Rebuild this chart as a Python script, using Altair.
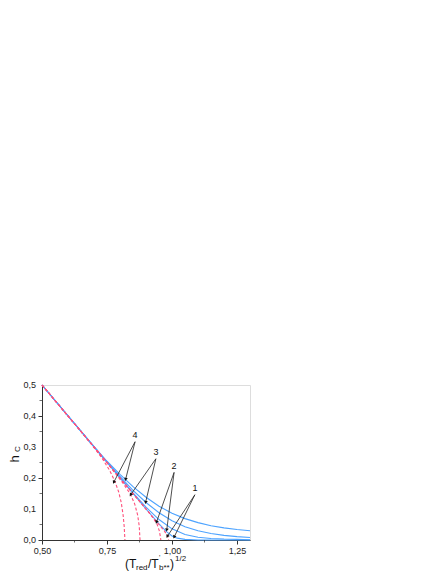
import math
import altair as alt
import pandas as pd

# ---- data ----
blue4_x = [0.5, 0.7, 0.75, 0.8, 0.85, 0.9, 0.95, 1.0, 1.05, 1.1, 1.15, 1.2, 1.25, 1.3]
blue4_y = [0.5, 0.301, 0.254, 0.212, 0.172, 0.138, 0.109, 0.086, 0.069, 0.056, 0.046, 0.039, 0.034, 0.030]
blue3_x = [0.5, 0.75, 0.8, 0.85, 0.9, 0.95, 1.0, 1.05, 1.1, 1.15, 1.2, 1.25, 1.3]
blue3_y = [0.5, 0.251, 0.205, 0.160, 0.121, 0.088, 0.062, 0.043, 0.030, 0.021, 0.015, 0.011, 0.008]
blue2_x = [0.5, 0.85, 0.9, 0.95, 1.0, 1.05, 1.1, 1.15, 1.2, 1.25, 1.3]
blue2_y = [0.5, 0.152, 0.106, 0.066, 0.036, 0.018, 0.009, 0.005, 0.003, 0.002, 0.001]
blue1_x = [0.5, 0.9, 0.95, 0.98, 1.0, 1.02, 1.05, 1.1, 1.3]
blue1_y = [0.5, 0.1, 0.052, 0.026, 0.013, 0.006, 0.002, 0.0, 0.0]

red4_x = [0.5, 0.65, 0.7, 0.73, 0.76, 0.78, 0.795, 0.805, 0.812, 0.816, 0.819]
red4_y = [0.5, 0.35, 0.298, 0.265, 0.225, 0.19, 0.155, 0.12, 0.08, 0.045, 0.0]
red3_x = [0.5, 0.72, 0.77, 0.81, 0.84, 0.857, 0.868, 0.874, 0.877]
red3_y = [0.5, 0.28, 0.228, 0.185, 0.148, 0.115, 0.08, 0.045, 0.0]
red2_x = [0.5, 0.88, 0.91, 0.93, 0.943, 0.951, 0.955, 0.957]
red2_y = [0.5, 0.12, 0.09, 0.068, 0.05, 0.03, 0.012, 0.0]
red1_x = [0.5, 0.95, 0.97, 0.98, 0.985, 0.987]
red1_y = [0.5, 0.05, 0.03, 0.017, 0.007, 0.0]

label_text = ["4", "3", "2", "1"]
label_x = [0.858, 0.938, 1.008, 1.088]
label_y = [0.339, 0.284, 0.240, 0.168]
tip_red_x = [0.777, 0.842, 0.941, 0.983]
tip_red_y = [0.188, 0.147, 0.059, 0.013]
tip_blue_x = [0.822, 0.899, 0.980, 1.009]
tip_blue_y = [0.197, 0.123, 0.034, 0.011]

x_major = [0.5, 0.75, 1.0, 1.25]
x_minor = [0.625, 0.875, 1.125]
y_major = [0.0, 0.1, 0.2, 0.3, 0.4, 0.5]
y_labels = ["0,0", "0,1", "0,2", "0,3", "0,4", "0,5"]
y_minor = [0.05, 0.15, 0.25, 0.35, 0.45]

W, H = 208, 155
XMIN, XMAX, YMIN, YMAX = 0.5, 1.3, 0.0, 0.5

def curves(specs):
    rows = []
    for name, xs, ys in specs:
        for i, (a, b) in enumerate(zip(xs, ys)):
            rows.append({"curve": name, "i": i, "x": a, "y": b})
    return pd.DataFrame(rows)

blue_df = curves([("b4", blue4_x, blue4_y), ("b3", blue3_x, blue3_y),
                  ("b2", blue2_x, blue2_y), ("b1", blue1_x, blue1_y)])
red_df = curves([("r4", red4_x, red4_y), ("r3", red3_x, red3_y),
                 ("r2", red2_x, red2_y), ("r1", red1_x, red1_y)])

arrows = []
for k in range(4):
    for tx, ty in ((tip_red_x[k], tip_red_y[k]), (tip_blue_x[k], tip_blue_y[k])):
        sx, sy = label_x[k], label_y[k] - 0.022
        dx = (tx - sx) * W / (XMAX - XMIN)
        dy = -(ty - sy) * H / (YMAX - YMIN)
        ang = math.degrees(math.atan2(dx, -dy)) % 360
        arrows.append({"sx": sx, "sy": sy, "tx": tx, "ty": ty, "ang": ang})
arrow_df = pd.DataFrame(arrows)
label_df = pd.DataFrame({"t": label_text, "x": label_x, "y": label_y})

xs = alt.Scale(domain=[XMIN, XMAX], nice=False, zero=False)
ys = alt.Scale(domain=[YMIN, YMAX], nice=False, zero=False)

common = dict(title=None, grid=False, tickSize=4, labelFontSize=9, labelPadding=2,
              labelOverlap=False, labelFlush=False,
              domainColor="#333", tickColor="#333", labelColor="#222", labelFont="Liberation Sans")
xaxis = alt.Axis(values=x_major,
                 labelExpr="replace(format(datum.value, '.2f'), '.', ',')", **common)
yaxis = alt.Axis(values=y_major, labels=False, **common)

blue = alt.Chart(blue_df).mark_line(color="#4da3ff", strokeWidth=1.1).encode(
    x=alt.X("x:Q", scale=xs, axis=xaxis),
    y=alt.Y("y:Q", scale=ys, axis=yaxis),
    detail="curve:N", order="i:Q")
red = alt.Chart(red_df).mark_line(color="#ff4f7b", strokeWidth=1.1, strokeDash=[3, 2]).encode(
    x=alt.X("x:Q", scale=xs), y=alt.Y("y:Q", scale=ys), detail="curve:N", order="i:Q")

arrow_lines = alt.Chart(arrow_df).mark_rule(color="#222", strokeWidth=0.8).encode(
    x=alt.X("sx:Q", scale=xs), y=alt.Y("sy:Q", scale=ys), x2="tx:Q", y2="ty:Q")
arrow_heads = alt.Chart(arrow_df).mark_point(shape="triangle", filled=True, color="#111", size=14, opacity=1).encode(
    x=alt.X("tx:Q", scale=xs), y=alt.Y("ty:Q", scale=ys), angle=alt.Angle("ang:Q", scale=None))
labels = alt.Chart(label_df).mark_text(fontSize=9, font="Liberation Sans", color="#111").encode(
    x=alt.X("x:Q", scale=xs), y=alt.Y("y:Q", scale=ys), text="t:N")

ylab = alt.Chart(pd.DataFrame({"v": y_major, "t": y_labels})).mark_text(
    fontSize=9, font="Liberation Sans", color="#222", align="right", baseline="middle").encode(
    y=alt.Y("v:Q", scale=ys), x=alt.value(-6), text="t:N")

xminor = alt.Chart(pd.DataFrame({"v": x_minor})).mark_tick(
    orient="vertical", size=2.5, thickness=1, color="#333").encode(
    x=alt.X("v:Q", scale=xs), y=alt.value(H + 1.25))
yminor = alt.Chart(pd.DataFrame({"v": y_minor})).mark_tick(
    orient="horizontal", size=2.5, thickness=1, color="#333").encode(
    y=alt.Y("v:Q", scale=ys), x=alt.value(-1.25))

one = pd.DataFrame({"k": [0]})

def txt(s, x, y, size, **kw):
    return alt.Chart(one).mark_text(text=s, fontSize=size, font="Liberation Sans", color="#111",
                                    baseline="middle", **kw).encode(x=alt.value(x), y=alt.value(y))

titles = [
    txt("h", -27, 74, 13, angle=270, align="center"),
    txt("C", -24, 64, 8, angle=270, align="center"),
    txt("(T", 83, 179, 12, align="left"),
    txt("red", 94, 183, 8, align="left"),
    txt("/T", 106, 179, 12, align="left"),
    txt("'", 117, 173, 7, align="left"),
    txt("b**", 117, 183, 8, align="left"),
    txt(")", 128, 179, 12, align="left"),
    txt("1/2", 133, 174, 8, align="left"),
]

chart = alt.layer(blue, red, arrow_lines, arrow_heads, labels, ylab, xminor, yminor, *titles).properties(
    width=W, height=H,
    autosize=alt.AutoSizeParams(type="none"),
    padding={"left": 34, "top": 377, "right": 10, "bottom": 32},
).configure_view(stroke="#333", strokeWidth=1).configure(background="white")

chart.save("out.html", embed_options={"renderer": "svg", "actions": False})
